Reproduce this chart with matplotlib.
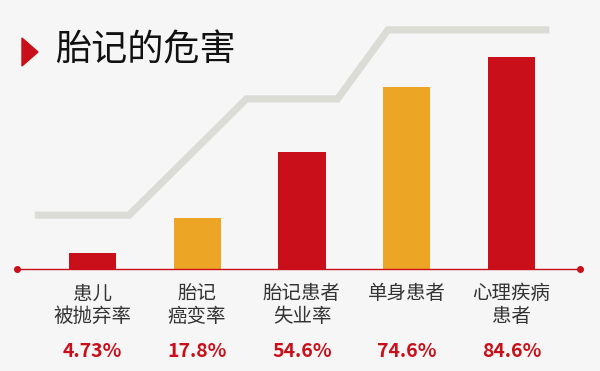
import matplotlib
matplotlib.use("Agg")
import matplotlib.pyplot as plt
from matplotlib.patches import Polygon

plt.rcParams['font.family'] = ['Noto Sans CJK SC', 'DejaVu Sans']

# dados
categorias = ["患儿\n被抛弃率", "胎记\n癌变率", "胎记患者\n失业率", "单身患者", "心理疾病\n患者"]
rotulos = ["4.73%", "17.8%", "54.6%", "74.6%", "84.6%"]
# alturas desenhadas (as barras da figura original não são proporcionais aos rótulos)
alturas = [6.4, 20.3, 46.6, 72.8, 84.6]
cores = ["#c80f1a", "#eda526", "#c80f1a", "#eda526", "#c80f1a"]

# linha cinza decorativa em degraus (coordenadas de dados)
degrau_x = [-0.55, 0.35, 1.47, 2.34, 2.82, 4.36]
degrau_y = [21.6, 21.6, 67.9, 67.9, 95.4, 95.4]

fundo = "#f6f6f6"
vermelho = "#c80f1a"

fig = plt.figure(figsize=(6, 3.71), dpi=100, facecolor=fundo)
ax = fig.add_axes([0, 0, 1, 1])
ax.set_facecolor(fundo)
ax.set_xlim(-0.882, 4.844)
ax.set_ylim(-40.5, 107.3)
ax.axis("off")

ax.plot(degrau_x, degrau_y, color="#dcdcd7", linewidth=5.2,
        solid_capstyle="butt", solid_joinstyle="miter", zorder=1)

x = list(range(len(alturas)))
ax.bar(x, alturas, width=0.45, color=cores, zorder=2)

# linha de base com pontinhos nas pontas
ax.plot([-0.72, 4.65], [0, 0], color=vermelho, linewidth=1.0, zorder=3)
ax.plot([-0.72, 4.65], [0, 0], "o", color=vermelho, markersize=4, zorder=3)

for i, cat in enumerate(categorias):
    linhas = cat.split("\n")
    for j, linha in enumerate(linhas):
        ax.text(i, -9.8 - j * 9.0, linha, ha="center", va="center",
                fontsize=14, color="#333333")
    ax.text(i, -32.8, rotulos[i], ha="center", va="center",
            fontsize=14, fontweight="bold", color=vermelho)

# título com triângulo vermelho
tri = Polygon([[22 / 600, 1 - 38 / 371], [22 / 600, 1 - 66 / 371], [38 / 600, 1 - 52 / 371]],
              closed=True, transform=fig.transFigure, color=vermelho)
fig.patches.append(tri)
fig.text(55 / 600, 1 - 51 / 371, "胎记的危害", ha="left", va="center",
         fontsize=26, color="#111111")

fig.savefig("out.png", dpi=100, facecolor=fundo)
